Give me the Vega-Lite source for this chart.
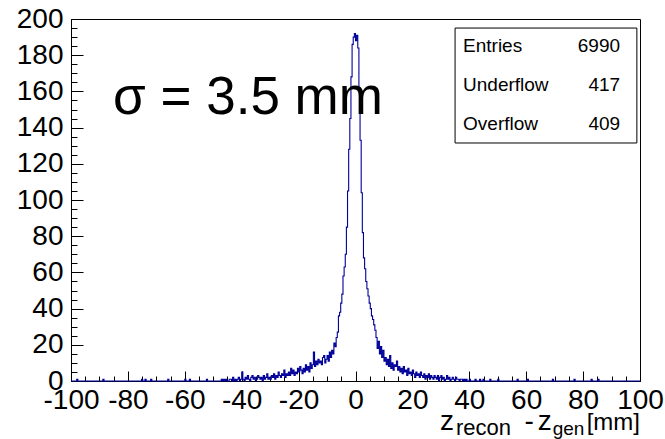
{
 "$schema": "https://vega.github.io/schema/vega-lite/v6.json",
 "width": 569, "height": 362,
 "autosize": {"type": "none"},
 "padding": {"left": 71, "top": 19, "right": 25, "bottom": 58},
 "background": "white",
 "config": {
  "view": {"stroke": "black", "strokeWidth": 1},
  "font": "Liberation Sans",
  "axis": {"domainColor": "black", "tickColor": "black", "labelColor": "black", "labelFont": "Liberation Sans", "labelFontSize": 28, "grid": false, "zindex": 1, "title": null}
 },
 "resolve": {"axis": {"x": "independent", "y": "independent"}},
 "data": {"values": [
  {"x":-100,"n":0},{"x":-98,"n":1},{"x":-97.6,"n":0},{"x":-88.8,"n":1},{"x":-88.4,"n":0},{"x":-75.2,"n":1},{"x":-74.8,"n":0},{"x":-74,"n":1},{"x":-73.6,"n":0},{"x":-72,"n":1},{"x":-71.6,"n":0},{"x":-66,"n":1},{"x":-65.6,"n":0},{"x":-60,"n":1},{"x":-59.6,"n":0},{"x":-58.4,"n":1},{"x":-58,"n":0},{"x":-52.4,"n":1},{"x":-52,"n":0},
  {"x":-48,"n":0},{"x":-47.6,"n":0},{"x":-47.2,"n":1},{"x":-46.8,"n":0},{"x":-46.4,"n":1},{"x":-46,"n":0},{"x":-45.6,"n":1},{"x":-45.2,"n":0},{"x":-44.8,"n":0},{"x":-44.4,"n":1},{"x":-44,"n":1},{"x":-43.6,"n":0},{"x":-43.2,"n":2},{"x":-42.8,"n":0},{"x":-42.4,"n":1},{"x":-42,"n":0},{"x":-41.6,"n":1},{"x":-41.2,"n":2},{"x":-40.8,"n":0},{"x":-40.4,"n":1},
  {"x":-40,"n":5},{"x":-39.6,"n":1},{"x":-39.2,"n":0},{"x":-38.8,"n":2},{"x":-38.4,"n":1},{"x":-38,"n":3},{"x":-37.6,"n":1},{"x":-37.2,"n":0},{"x":-36.8,"n":2},{"x":-36.4,"n":3},{"x":-36,"n":1},{"x":-35.6,"n":2},{"x":-35.2,"n":0},{"x":-34.8,"n":1},{"x":-34.4,"n":3},{"x":-34,"n":2},{"x":-33.6,"n":1},{"x":-33.2,"n":2},{"x":-32.8,"n":0},{"x":-32.4,"n":3},{"x":-32,"n":1},{"x":-31.6,"n":2},{"x":-31.2,"n":4},{"x":-30.8,"n":1},{"x":-30.4,"n":2},
  {"x":-30,"n":1},{"x":-29.6,"n":3},{"x":-29.2,"n":2},{"x":-28.8,"n":4},{"x":-28.4,"n":1},{"x":-28,"n":3},{"x":-27.6,"n":2},{"x":-27.2,"n":5},{"x":-26.8,"n":3},{"x":-26.4,"n":2},{"x":-26,"n":4},{"x":-25.6,"n":3},{"x":-25.2,"n":6},{"x":-24.8,"n":2},{"x":-24.4,"n":4},{"x":-24,"n":3},{"x":-23.6,"n":5},{"x":-23.2,"n":3},{"x":-22.8,"n":7},{"x":-22.4,"n":4},{"x":-22,"n":6},{"x":-21.6,"n":3},{"x":-21.2,"n":5},{"x":-20.8,"n":4},{"x":-20.4,"n":7},
  {"x":-20,"n":5},{"x":-19.6,"n":8},{"x":-19.2,"n":6},{"x":-18.8,"n":4},{"x":-18.4,"n":7},{"x":-18,"n":5},{"x":-17.6,"n":9},{"x":-17.2,"n":6},{"x":-16.8,"n":8},{"x":-16.4,"n":5},{"x":-16,"n":10},{"x":-15.6,"n":7},{"x":-15.2,"n":9},{"x":-14.8,"n":16},{"x":-14.4,"n":8},{"x":-14,"n":11},{"x":-13.6,"n":9},{"x":-13.2,"n":12},{"x":-12.8,"n":10},{"x":-12.4,"n":11},{"x":-12,"n":9},{"x":-11.6,"n":13},{"x":-11.2,"n":14},{"x":-10.8,"n":10},{"x":-10.4,"n":12},
  {"x":-10,"n":14},{"x":-9.6,"n":11},{"x":-9.2,"n":16},{"x":-8.8,"n":13},{"x":-8.4,"n":17},{"x":-8,"n":15},{"x":-7.6,"n":21},{"x":-7.2,"n":19},{"x":-6.8,"n":24},{"x":-6.4,"n":27},{"x":-6,"n":36},{"x":-5.6,"n":38},{"x":-5.2,"n":43},{"x":-4.8,"n":48},{"x":-4.4,"n":58},{"x":-4,"n":63},{"x":-3.6,"n":70},{"x":-3.2,"n":85},{"x":-2.8,"n":105},{"x":-2.4,"n":128},{"x":-2,"n":145},{"x":-1.6,"n":168},{"x":-1.2,"n":186},{"x":-0.8,"n":190},{"x":-0.4,"n":192},
  {"x":0,"n":188},{"x":0.4,"n":191},{"x":0.8,"n":184},{"x":1.2,"n":162},{"x":1.6,"n":133},{"x":2,"n":104},{"x":2.4,"n":82},{"x":2.8,"n":68},{"x":3.2,"n":62},{"x":3.6,"n":55},{"x":4,"n":51},{"x":4.4,"n":47},{"x":4.8,"n":43},{"x":5.2,"n":40},{"x":5.6,"n":36},{"x":6,"n":34},{"x":6.4,"n":31},{"x":6.8,"n":28},{"x":7.2,"n":24},{"x":7.6,"n":18},{"x":8,"n":22},{"x":8.4,"n":15},{"x":8.8,"n":19},{"x":9.2,"n":13},{"x":9.6,"n":17},
  {"x":10,"n":11},{"x":10.4,"n":13},{"x":10.8,"n":9},{"x":11.2,"n":12},{"x":11.6,"n":8},{"x":12,"n":14},{"x":12.4,"n":7},{"x":12.8,"n":10},{"x":13.2,"n":6},{"x":13.6,"n":9},{"x":14,"n":8},{"x":14.4,"n":11},{"x":14.8,"n":6},{"x":15.2,"n":8},{"x":15.6,"n":5},{"x":16,"n":7},{"x":16.4,"n":4},{"x":16.8,"n":8},{"x":17.2,"n":5},{"x":17.6,"n":6},{"x":18,"n":3},{"x":18.4,"n":7},{"x":18.8,"n":4},{"x":19.2,"n":5},{"x":19.6,"n":3},
  {"x":20,"n":6},{"x":20.4,"n":4},{"x":20.8,"n":2},{"x":21.2,"n":5},{"x":21.6,"n":3},{"x":22,"n":4},{"x":22.4,"n":2},{"x":22.8,"n":5},{"x":23.2,"n":3},{"x":23.6,"n":2},{"x":24,"n":4},{"x":24.4,"n":1},{"x":24.8,"n":3},{"x":25.2,"n":2},{"x":25.6,"n":4},{"x":26,"n":1},{"x":26.4,"n":3},{"x":26.8,"n":2},{"x":27.2,"n":1},{"x":27.6,"n":3},{"x":28,"n":2},{"x":28.4,"n":1},{"x":28.8,"n":3},{"x":29.2,"n":0},{"x":29.6,"n":2},
  {"x":30,"n":3},{"x":30.4,"n":1},{"x":30.8,"n":2},{"x":31.2,"n":0},{"x":31.6,"n":1},{"x":32,"n":3},{"x":32.4,"n":1},{"x":32.8,"n":2},{"x":33.2,"n":0},{"x":33.6,"n":1},{"x":34,"n":2},{"x":34.4,"n":1},{"x":34.8,"n":0},{"x":35.2,"n":2},{"x":35.6,"n":1},{"x":36,"n":1},{"x":36.4,"n":0},{"x":36.8,"n":1},{"x":37.2,"n":1},{"x":37.6,"n":0},{"x":38,"n":1},{"x":38.4,"n":0},{"x":38.8,"n":1},{"x":39.2,"n":0},{"x":40,"n":1},{"x":40.4,"n":0},
  {"x":42,"n":1},{"x":42.4,"n":0},{"x":43.6,"n":1},{"x":44,"n":0},{"x":44.8,"n":1},{"x":45.2,"n":0},{"x":47.2,"n":1},{"x":47.6,"n":0},{"x":50,"n":1},{"x":50.4,"n":0},{"x":56.8,"n":1},{"x":57.2,"n":0},{"x":60.4,"n":1},{"x":60.8,"n":0},{"x":69.2,"n":1},{"x":69.6,"n":0},{"x":76.8,"n":1},{"x":77.2,"n":0},{"x":82.8,"n":1},{"x":83.2,"n":0},{"x":85.2,"n":1},{"x":85.6,"n":0},{"x":100,"n":0}
 ]},
 "layer": [
  {
   "mark": {"type": "line", "interpolate": "step-after", "color": "#000099", "strokeWidth": 1.1},
   "encoding": {
    "x": {"field": "x", "type": "quantitative", "scale": {"domain": [-100, 100], "nice": false, "zero": false},
     "axis": {"orient": "bottom", "values": [-100,-80,-60,-40,-20,0,20,40,60,80,100],
      "labelExpr": "'' + datum.value",
      "tickSize": -10, "labelPadding": 15, "labelFlush": false, "labelOverlap": false, "title": null}},
    "y": {"field": "n", "type": "quantitative", "scale": {"domain": [0, 200], "nice": false},
     "axis": {"orient": "left", "values": [0,20,40,60,80,100,120,140,160,180,200],
      "tickSize": -12, "labelPadding": 20, "labelOverlap": false, "title": null}}
   }
  },
  {
   "data": {"values": [{}]},
   "mark": {"type": "rect", "fill": "white", "stroke": "black", "strokeWidth": 1},
   "encoding": {
    "x": {"datum": 35, "axis": {"orient": "bottom", "values": [-95,-90,-85,-75,-70,-65,-55,-50,-45,-35,-30,-25,-15,-10,-5,5,10,15,25,30,35,45,50,55,65,70,75,85,90,95], "labels": false, "domain": false, "tickSize": -5, "title": null}},
    "x2": {"datum": 98.9},
    "y": {"datum": 195, "axis": {"orient": "left", "values": [5,10,15,25,30,35,45,50,55,65,70,75,85,90,95,105,110,115,125,130,135,145,150,155,165,170,175,185,190,195], "labels": false, "domain": false, "tickSize": -6, "title": null}},
    "y2": {"datum": 131.5}
   }
  },
  {"data": {"values": [{}]}, "mark": {"type": "text", "text": "Entries", "align": "left", "baseline": "middle", "fontSize": 19, "color": "black"}, "encoding": {"x": {"datum": 37.8, "axis": null}, "y": {"datum": 185.1, "axis": null}}},
  {"data": {"values": [{}]}, "mark": {"type": "text", "text": "6990", "align": "right", "baseline": "middle", "fontSize": 19, "color": "black"}, "encoding": {"x": {"datum": 93, "axis": null}, "y": {"datum": 185.1, "axis": null}}},
  {"data": {"values": [{}]}, "mark": {"type": "text", "text": "Underflow", "align": "left", "baseline": "middle", "fontSize": 19, "color": "black"}, "encoding": {"x": {"datum": 37.8, "axis": null}, "y": {"datum": 163.5, "axis": null}}},
  {"data": {"values": [{}]}, "mark": {"type": "text", "text": "417", "align": "right", "baseline": "middle", "fontSize": 19, "color": "black"}, "encoding": {"x": {"datum": 93, "axis": null}, "y": {"datum": 163.5, "axis": null}}},
  {"data": {"values": [{}]}, "mark": {"type": "text", "text": "Overflow", "align": "left", "baseline": "middle", "fontSize": 19, "color": "black"}, "encoding": {"x": {"datum": 37.8, "axis": null}, "y": {"datum": 142, "axis": null}}},
  {"data": {"values": [{}]}, "mark": {"type": "text", "text": "409", "align": "right", "baseline": "middle", "fontSize": 19, "color": "black"}, "encoding": {"x": {"datum": 93, "axis": null}, "y": {"datum": 142, "axis": null}}},
  {"data": {"values": [{}]}, "mark": {"type": "text", "text": "σ = 3.5 mm", "align": "left", "baseline": "middle", "fontSize": 53, "color": "black"}, "encoding": {"x": {"datum": -85.2, "axis": null}, "y": {"datum": 156.4, "axis": null}}},
  {"data": {"values": [{}]}, "mark": {"type": "text", "text": "z", "align": "left", "baseline": "alphabetic", "fontSize": 28, "color": "black"}, "encoding": {"x": {"datum": 29.7, "axis": null}, "y": {"datum": -27.1, "axis": null}}},
  {"data": {"values": [{}]}, "mark": {"type": "text", "text": "recon", "align": "left", "baseline": "alphabetic", "fontSize": 22, "color": "black"}, "encoding": {"x": {"datum": 35.3, "axis": null}, "y": {"datum": -29.8, "axis": null}}},
  {"data": {"values": [{}]}, "mark": {"type": "text", "text": "-", "align": "left", "baseline": "alphabetic", "fontSize": 28, "color": "black"}, "encoding": {"x": {"datum": 59.4, "axis": null}, "y": {"datum": -27.1, "axis": null}}},
  {"data": {"values": [{}]}, "mark": {"type": "text", "text": "z", "align": "left", "baseline": "alphabetic", "fontSize": 28, "color": "black"}, "encoding": {"x": {"datum": 64.1, "axis": null}, "y": {"datum": -27.1, "axis": null}}},
  {"data": {"values": [{}]}, "mark": {"type": "text", "text": "gen", "align": "left", "baseline": "alphabetic", "fontSize": 19, "color": "black"}, "encoding": {"x": {"datum": 69.3, "axis": null}, "y": {"datum": -29.8, "axis": null}}},
  {"data": {"values": [{}]}, "mark": {"type": "text", "text": "[mm]", "align": "right", "baseline": "alphabetic", "fontSize": 24, "color": "black"}, "encoding": {"x": {"datum": 100, "axis": null}, "y": {"datum": -27.1, "axis": null}}}
 ]
}
